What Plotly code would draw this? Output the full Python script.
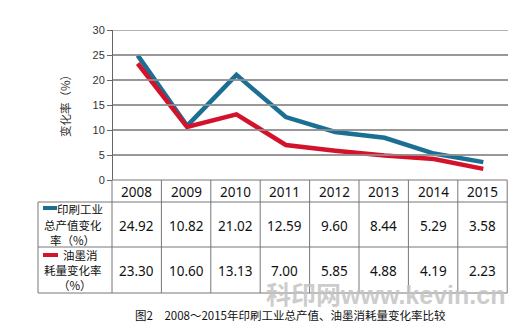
import plotly.graph_objects as go

years = ["2008", "2009", "2010", "2011", "2012", "2013", "2014", "2015"]
print_output = [24.92, 10.82, 21.02, 12.59, 9.60, 8.44, 5.29, 3.58]
ink_use = [23.30, 10.60, 13.13, 7.00, 5.85, 4.88, 4.19, 2.23]
row1_label = ["印刷工业", "总产值变化", "率（%）"]
row2_label = ["油墨消", "耗量变化率", "（%）"]
y_ticks = [0, 5, 10, 15, 20, 25, 30]
y_title = "变化率（%）"
caption = "图2　2008～2015年印刷工业总产值、油墨消耗量变化率比较"
watermark = "科印网www.kevin.cn"

W, H = 524, 329
def px(x): return x / W
def py(y): return 1 - y / H

BLUE = "#1b6f93"
RED = "#d3132b"
FONT = "Noto Sans, Noto Sans CJK SC, sans-serif"
CJK = "Noto Sans CJK SC"

x0, x1 = 113, 508
ytop, ybot = 30, 180
ydom = [py(ybot), py(ytop)]
yrange = [0, 30]

fig = go.Figure()
# grid lines as a trace on an invisible overlay x axis, beneath the data lines
gx, gy = [], []
for t in y_ticks[1:]:
    gx += [0, 1, None]
    gy += [t, t, None]
fig.add_trace(go.Scatter(x=gx, y=gy, xaxis="x2", yaxis="y", mode="lines",
                         line=dict(color="#999999", width=1.6), hoverinfo="skip", showlegend=False))
fig.add_trace(go.Scatter(x=years, y=print_output, mode="lines",
                         line=dict(color=BLUE, width=4.5), showlegend=False))
fig.add_trace(go.Scatter(x=years, y=ink_use, mode="lines",
                         line=dict(color=RED, width=4.5), showlegend=False))

fig.update_layout(
    width=W, height=H, margin=dict(l=0, r=0, t=0, b=0, autoexpand=False),
    paper_bgcolor="white", plot_bgcolor="white",
    font=dict(family=FONT, color="#222"),
    xaxis=dict(domain=[px(x0), px(x1)], range=[-0.5, 7.5], showticklabels=False,
               showgrid=False, zeroline=False, showline=False, ticks=""),
    xaxis2=dict(domain=[px(x0), px(x1)], range=[0, 1], overlaying="x", anchor="y",
                visible=False, showgrid=False, zeroline=False),
    yaxis=dict(domain=ydom, range=yrange, tickvals=y_ticks,
               showgrid=True, gridcolor="#999999", gridwidth=1.5, zeroline=False,
               showline=True, linecolor="#666", linewidth=1,
               ticks="outside", ticklen=5, tickcolor="#666", automargin=False,
               tickfont=dict(size=11, color="#333", family="Liberation Sans, Arial"),
               title=None),
)

shapes = []
annotations = []

def ann(x, y, text, size, color="#111", family=FONT, **kw):
    d = dict(x=px(x), y=py(y), xref="paper", yref="paper", text=text, showarrow=False,
             xanchor="center", yanchor="middle", font=dict(size=size, color=color, family=family))
    d.update(kw)
    annotations.append(d)

def hline(xa, xb, y):
    shapes.append(dict(type="line", xref="paper", yref="paper", x0=px(xa), x1=px(xb),
                       y0=py(y), y1=py(y), line=dict(color="#777", width=1)))

def vline(x, ya, yb):
    shapes.append(dict(type="line", xref="paper", yref="paper", x0=px(x), x1=px(x),
                       y0=py(ya), y1=py(yb), line=dict(color="#777", width=1)))

# y title
ann(65, 103, y_title, 11.5, color="#333", family=CJK, textangle=-90)

# table geometry
col_x = [112 + i * 49.4 for i in range(9)]
lab_x = 38
r_top, r_head, r_mid, r_bot = 180, 202, 247, 293
hline(col_x[0], col_x[-1], r_top)
for yy in (r_head, r_mid, r_bot):
    hline(lab_x, col_x[-1], yy)
for cx in col_x:
    vline(cx, r_top, r_bot)
vline(lab_x, r_head, r_bot)

for i, yv in enumerate(years):
    cxm = (col_x[i] + col_x[i + 1]) / 2
    ann(cxm, (r_top + r_head) / 2 + 1, yv, 13.5)
    ann(cxm, (r_head + r_mid) / 2 + 1, f"{print_output[i]:.2f}", 13.5)
    ann(cxm, (r_mid + r_bot) / 2 + 1, f"{ink_use[i]:.2f}", 13.5)

# row labels with legend swatches
ann(80, 209, row1_label[0], 11.5, family=CJK)
ann(73, 225, row1_label[1], 11.5, family=CJK)
ann(72, 240, row1_label[2], 11.5, family=CJK)
shapes.append(dict(type="rect", xref="paper", yref="paper", x0=px(43), x1=px(57),
                   y0=py(210), y1=py(206), fillcolor=BLUE, line=dict(width=0)))
ann(80, 255, row2_label[0], 11.5, family=CJK)
ann(73, 270, row2_label[1], 11.5, family=CJK)
ann(75, 285, row2_label[2], 11.5, family=CJK)
shapes.append(dict(type="rect", xref="paper", yref="paper", x0=px(43), x1=px(58),
                   y0=py(257), y1=py(253), fillcolor=RED, line=dict(width=0)))

# watermark
ann(385, 295, f"<b>{watermark}</b>", 25, color="rgba(195,195,195,0.85)",
    family="Liberation Sans, Noto Sans CJK SC")
# caption
ann(290, 315, caption, 11.5, color="#111", family=CJK)

fig.update_layout(shapes=shapes, annotations=annotations)
fig.write_html("out.html")
